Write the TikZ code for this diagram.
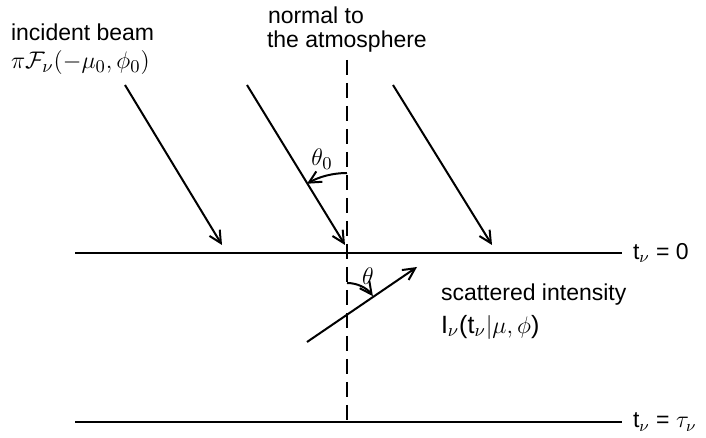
\documentclass[tikz,border=0pt]{standalone}
\usepackage{fontspec}
\setmainfont{Liberation Sans}
\usetikzlibrary{arrows.meta,positioning,calc}
\tikzset{every picture/.style={line width=1pt}}
\tikzset{
  beam/.style={-{Straight Barb[length=6pt,width=6pt]}},
  normalline/.style={dash pattern=on 7.5pt off 4pt},
  lbl/.style={font=\fontsize{11.5}{14}\selectfont,inner sep=0pt,anchor=west},
  anglbl/.style={font=\fontsize{13}{15}\selectfont,inner sep=0pt}
}

\begin{document}
\begin{tikzpicture}[x=0.5pt,y=0.5pt]
    \useasboundingbox (0,0) rectangle (706,438);
    % layer boundaries
    \coordinate (topL) at (75,185);   \coordinate (topR) at (622,185);
    \coordinate (botL) at (75,16);    \coordinate (botR) at (622,16);
    \draw (topL) -- (topR);
    \draw (botL) -- (botR);
    \node[lbl] (tzero) at (632,185) {t$_\nu$ = 0};
    \node[lbl] (ttau) at (632,16) {t$_\nu$ = $\tau_\nu$};
    % normal
    \coordinate (nTop) at (347,378);  \coordinate (nBot) at (347,16);
    \draw[normalline] (nTop) -- (nBot);
    \node[lbl] (normal) at (267,423) {normal to};
    \node[lbl] (atmos) at (266,396) {the atmosphere};
    % incident beams
    \foreach \i/\xs/\xe in {1/125/222,2/247/345,3/393/492} {
        \coordinate (in\i) at (\xs,353);
        \coordinate (out\i) at (\xe,193);
        \draw[beam] (in\i) -- (out\i);
    }
    \node[lbl] (incident) at (10,406) {incident beam};
    \node[lbl,font=\fontsize{12.5}{14}\selectfont] (flux) at (10,375) {$\pi\mathcal{F}_\nu(-\mu_0,\phi_0)$};
    % angle theta_0
    \coordinate (o0) at (347,185);
    \draw[beam] ($(o0)+(0,80)$) arc[start angle=90,end angle=120,radius=80];
    \node[anglbl] (thetazero) at (322,279) {$\theta_0$};
    % scattered beam
    \coordinate (sIn) at (307,96);    \coordinate (sOut) at (417,171);
    \draw[beam] (sIn) -- (sOut);
    \coordinate (o1) at (347,123);
    \draw[beam] ($(o1)+(0,32)$) arc[start angle=90,end angle=36,radius=32];
    \node[anglbl] (theta) at (368,162) {$\theta$};
    \node[lbl] (scat) at (440,143) {scattered intensity};
    \node[lbl,font=\fontsize{12.5}{14}\selectfont] (intens) at (440,111) {I$_\nu$(t$_\nu|\mu,\phi$)};
\end{tikzpicture}
\end{document}
